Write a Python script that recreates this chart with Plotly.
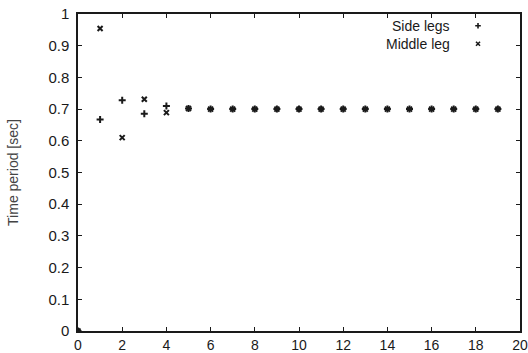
import plotly.graph_objects as go

steps = list(range(0, 20))
side_legs = [0.0, 0.667, 0.728, 0.685, 0.710, 0.702, 0.700, 0.700, 0.700, 0.700,
             0.700, 0.700, 0.700, 0.700, 0.700, 0.700, 0.700, 0.700, 0.700, 0.700]
middle_leg = [0.0, 0.954, 0.610, 0.731, 0.689, 0.702, 0.700, 0.700, 0.700, 0.700,
              0.700, 0.700, 0.700, 0.700, 0.700, 0.700, 0.700, 0.700, 0.700, 0.700]
series_names = ["Side legs", "Middle leg"]
x_ticks = list(range(0, 21, 2))
y_ticks = [round(0.1 * i, 1) for i in range(11)]

ink = "#1a1a1a"
font_family = "Liberation Sans, Arial"
fig = go.Figure()
fig.add_trace(go.Scatter(x=steps, y=side_legs, mode="markers", name=series_names[0],
                         marker=dict(symbol="cross-thin", size=5, line=dict(width=2, color=ink), color=ink),
                         showlegend=False))
fig.add_trace(go.Scatter(x=steps, y=middle_leg, mode="markers", name=series_names[1],
                         marker=dict(symbol="x-thin", size=5, line=dict(width=2, color=ink), color=ink),
                         showlegend=False))

# legend keys (gnuplot style: text then symbol on the right)
key_y = [0.963, 0.906]
fig.add_trace(go.Scatter(x=[0.905], y=[key_y[0]], mode="markers", xaxis="x2", yaxis="y2",
                         marker=dict(symbol="cross-thin", size=4, line=dict(width=1.6, color=ink)),
                         showlegend=False, hoverinfo="skip"))
fig.add_trace(go.Scatter(x=[0.905], y=[key_y[1]], mode="markers", xaxis="x2", yaxis="y2",
                         marker=dict(symbol="x-thin", size=4, line=dict(width=1.6, color=ink)),
                         showlegend=False, hoverinfo="skip"))
for name, yy in zip(series_names, key_y):
    fig.add_annotation(x=0.847, y=yy, xref="x2", yref="y2", text=name, showarrow=False,
                       xanchor="right", yanchor="middle",
                       font=dict(family=font_family, size=14, color=ink))

axis_common = dict(showline=True, linecolor=ink, linewidth=1.5, mirror="ticks",
                   ticks="inside", ticklen=4, tickwidth=1.2, tickcolor=ink,
                   showgrid=False, zeroline=False, automargin=False)

fig.update_layout(
    width=528, height=353,
    margin=dict(l=78, r=8, t=14, b=22),
    paper_bgcolor="white", plot_bgcolor="white",
    xaxis=dict(range=[0, 20], tickvals=x_ticks, ticklabelstandoff=0,
               tickfont=dict(family=font_family, size=14, color=ink), **axis_common),
    yaxis=dict(range=[0, 1], tickvals=y_ticks, ticktext=[f"{v:g}" for v in y_ticks],
               ticklabelstandoff=4,
               tickfont=dict(family=font_family, size=15, color=ink),
               title=dict(text="Time period [sec]", standoff=26,
                          font=dict(family=font_family, size=14, color="#444")),
               **axis_common),
    xaxis2=dict(range=[0, 1], overlaying="x", visible=False, domain=[0, 1]),
    yaxis2=dict(range=[0, 1], overlaying="y", visible=False),
    showlegend=False,
)

fig.write_html("out.html")
